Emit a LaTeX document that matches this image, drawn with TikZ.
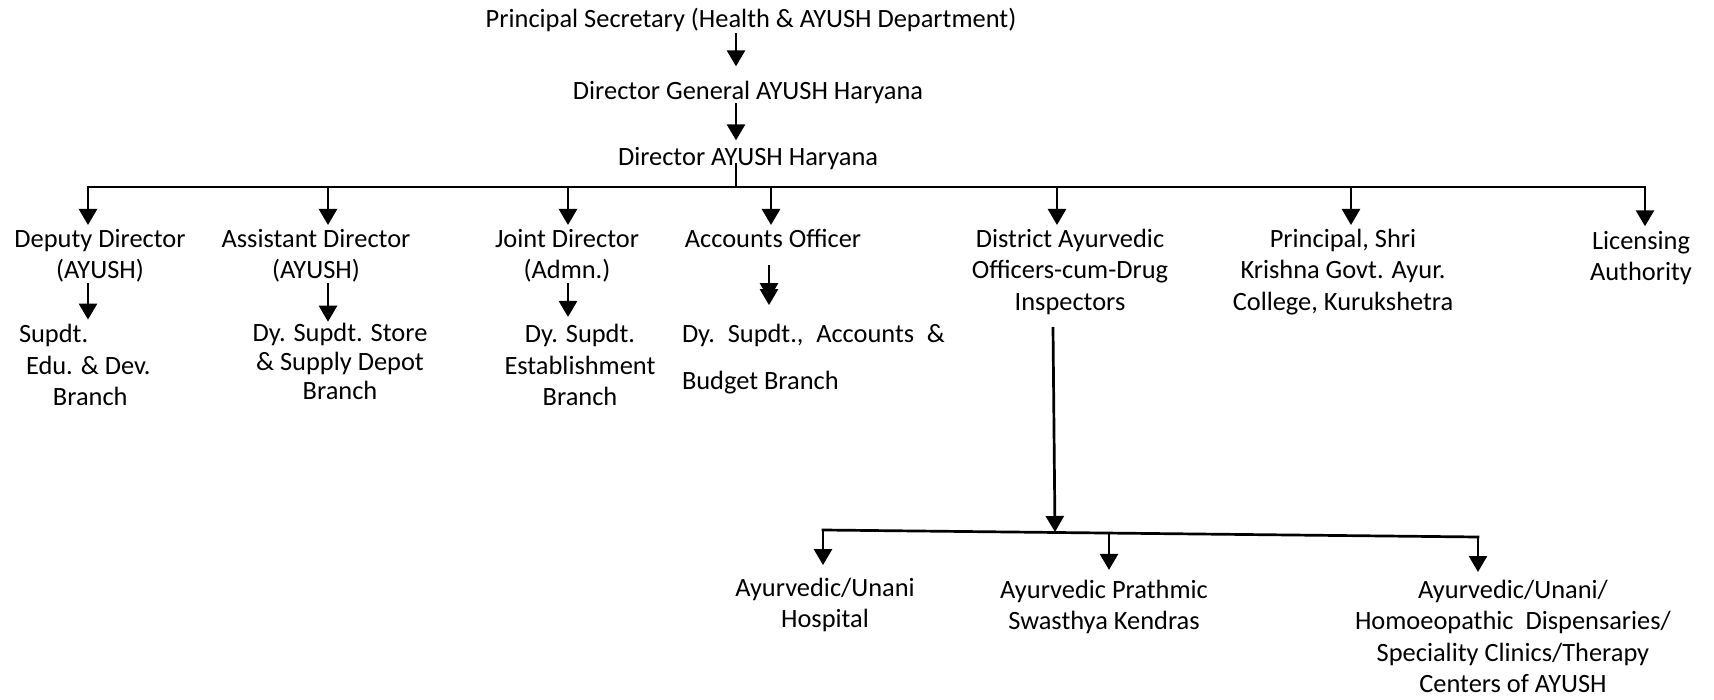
\documentclass[tikz,border=0pt]{standalone}
\usepackage{fontspec}
\setmainfont{Carlito}
\usetikzlibrary{arrows.meta}
\begin{document}
\begin{tikzpicture}[x=0.5pt,y=-0.5pt,
  lbl/.style={inner sep=0pt, outer sep=0pt, align=center, anchor=north,
    font=\fontsize{13.2pt}{15.75pt}\selectfont},
  lblL/.style={lbl, align=left, anchor=north west},
  conn/.style={line width=1.35pt},
  arr/.style={conn, -{Triangle[length=8pt,width=9pt]}},
  darr/.style={conn, -{Triangle[length=8pt,width=9pt,sep=-5pt]Triangle[length=8pt,width=9pt]}},
]
\useasboundingbox (0,0) rectangle (1714,700);

% ---------- top chain ----------
\node[lbl] (ps)  at (751,5.95)   {\strut Principal Secretary (Health \& AYUSH Department)};
\node[lbl] (dg)  at (748,77.95)  {\strut Director General AYUSH Haryana};
\node[lbl] (dir) at (748,143.95) {\strut Director AYUSH Haryana};

% ---------- first level ----------
\node[lbl] (dd)   at (100,225)  {\strut Deputy Director\\\strut (AYUSH)};
\node[lbl] (ad)   at (316,225)  {\strut Assistant Director\\\strut (AYUSH)};
\node[lbl] (jd)   at (567,225)  {\strut Joint Director\\\strut (Admn.)};
\node[lbl] (ao)   at (773,225)  {\strut Accounts Officer};
\node[lbl] (dao)  at (1070,225) {\strut District Ayurvedic\\\strut Officers-cum-Drug\\\strut Inspectors};
\node[lbl] (prin) at (1343,225) {\strut Principal, Shri\\\strut Krishna Govt. Ayur.\\\strut College, Kurukshetra};
\node[lbl, font=\fontsize{13.2pt}{15.5pt}\selectfont] (lic) at (1641,228.3) {\strut Licensing\\\strut Authority};

% ---------- second level ----------
\node[lblL, font=\fontsize{13.2pt}{16pt}\selectfont] (s1) at (19,319.6)
  {\strut Supdt.\\\strut\hspace*{3.5pt}Edu. \& Dev.\\\strut\hspace*{17pt}Branch};
\node[lbl, font=\fontsize{13.2pt}{14.5pt}\selectfont] (s2) at (340,321.7)
  {\strut Dy. Supdt. Store\\\strut \& Supply Depot\\\strut Branch};
\node[lbl, font=\fontsize{13.2pt}{16pt}\selectfont] (s3) at (580,319.6)
  {\strut Dy. Supdt.\\\strut Establishment\\\strut Branch};
\node[lblL, font=\fontsize{13.2pt}{23.5pt}\selectfont] (s4) at (682,309.1)
  {\strut\makebox[131.5pt][s]{Dy.\ Supdt.,\ Accounts\ \&}\\\strut Budget Branch};

% ---------- bottom level ----------
\node[lbl, font=\fontsize{13.2pt}{15.5pt}\selectfont] (hosp) at (825,574.3)
  {\strut Ayurvedic/Unani\\\strut Hospital};
\node[lbl, font=\fontsize{13.2pt}{15.5pt}\selectfont] (apsk) at (1104,576.3)
  {\strut Ayurvedic Prathmic\\\strut Swasthya Kendras};
\node[lbl] (disp) at (1513,576)
  {\strut Ayurvedic/Unani/\\\strut Homoeopathic\ \ Dispensaries/\\\strut Speciality Clinics/Therapy\\\strut Centers of AYUSH};

% ---------- connectors: top chain ----------
\coordinate (stem) at (736,0);
\draw[arr, shorten <=-2.3pt, shorten >=5.8pt] (ps.south -| stem) -- (dg.north -| stem);
\draw[arr, shorten <=-3.3pt, shorten >=1.8pt] (dg.south -| stem) -- (dir.north -| stem);

% main bus
\coordinate (j1) at (88,187);
\coordinate (j2) at (328,187);
\coordinate (j3) at (568,187);
\coordinate (j4) at (771,187);
\coordinate (j5) at (1057,187);
\coordinate (j6) at (1351,187);
\coordinate (j7) at (1645,187);
\draw[conn, shorten <=-6.3pt] (dir.south -| stem) -- (stem |- j1);
\draw[conn, line cap=rect] (j1) -- (j7);
\draw[arr] (j1) -- (j1 |- dd.north);
\draw[arr] (j2) -- (j2 |- ad.north);
\draw[arr] (j3) -- (j3 |- jd.north);
\draw[arr] (j4) -- (j4 |- ao.north);
\draw[arr] (j5) -- (j5 |- dao.north);
\draw[arr] (j6) -- (j6 |- prin.north);
\draw[arr, shorten >=1pt] (j7) -- (j7 |- lic.north);

% second level
\draw[arr, shorten <=-2.25pt] (dd.south -| j1) -- (s1.north -| j1);
\draw[arr, shorten <=-2.25pt] (ad.south -| j2) -- (s2.north -| j2);
\draw[arr, shorten <=-2.25pt, shorten >=1.3pt] (jd.south -| j3) -- (s3.north -| j3);
\coordinate (acx) at (769,0);
\draw[darr, shorten <=4.25pt, shorten >=2pt] (ao.south -| acx) -- (s4.north -| acx);

% district to lower bus
\coordinate (dtop) at (1053,327);
\coordinate (b2L) at (823,530);
\coordinate (b2J) at (1055,532);
\coordinate (b2M) at (1109,533);
\coordinate (b2R) at (1478,537);
\draw[arr] (dtop) -- (b2J);
\draw[conn, line cap=rect] (b2L) -- (b2R);
\draw[arr, shorten >=4.6pt] (b2L) -- (b2L |- hosp.north);
\draw[arr, shorten >=3.2pt] (b2M) -- (b2M |- apsk.north);
\draw[arr, shorten >=2pt] (b2R) -- (b2R |- disp.north);
\end{tikzpicture}
\end{document}
